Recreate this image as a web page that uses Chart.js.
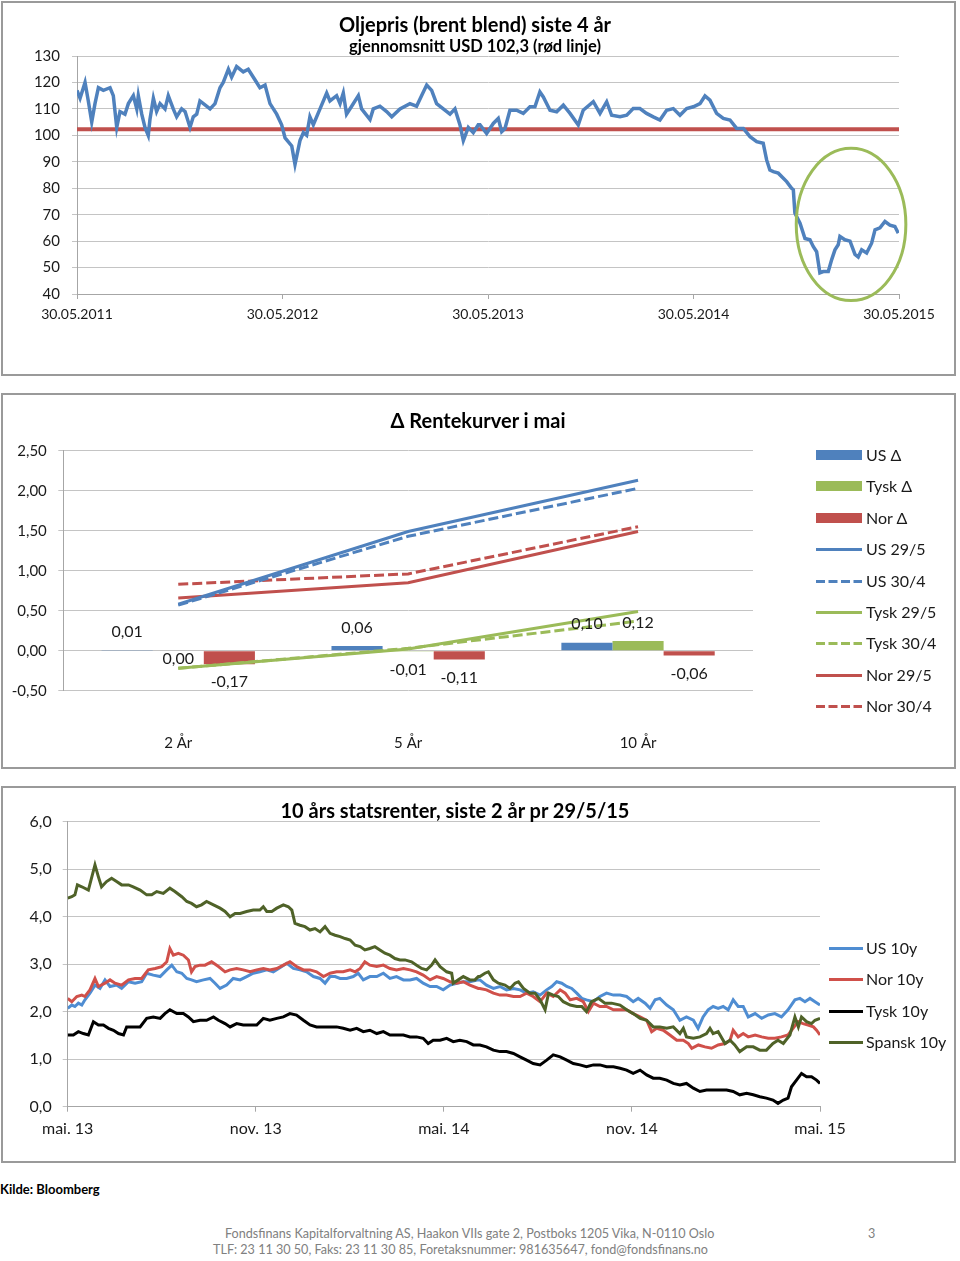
<!DOCTYPE html>
<html><head><meta charset="utf-8">
<script src="https://cdn.jsdelivr.net/npm/chart.js@4.4.0/dist/chart.umd.min.js"></script>
<style>
body{margin:0;background:#fff;font-family:Lato,"Open Sans",sans-serif;}
#page{position:relative;width:960px;height:1261px;overflow:hidden;background:#fff;}
.box{position:absolute;left:1px;width:951px;border:2px solid #9a9a9a;pointer-events:none;z-index:2;}
canvas{position:absolute;left:0;}
.t{position:absolute;white-space:nowrap;font-weight:bold;color:#000;transform:translate(-50%,-50%);line-height:1;}
.leg{position:absolute;white-space:nowrap;font-size:16px;color:#1a1a1a;line-height:20px;height:20px;z-index:3;}
.leg svg{position:absolute;left:0;top:0}
.foot{position:absolute;white-space:nowrap;font-size:12.6px;color:#808080;line-height:1;transform:translateY(-50%);}
</style></head>
<body><div id="page">
<canvas id="c1" width="960" height="380" style="top:0"></canvas>
<canvas id="c2" width="960" height="392" style="top:384px"></canvas>
<canvas id="c3" width="960" height="388" style="top:778px"></canvas>
<div class="box" style="top:1px;height:371px"></div>
<div class="box" style="top:393px;height:372px"></div>
<div class="box" style="top:786px;height:373px"></div>
<div class="t" style="left:475px;top:24px;font-size:20px">Oljepris (brent blend) siste 4 år</div>
<div class="t" style="left:475px;top:46px;font-size:16.5px">gjennomsnitt USD 102,3 (rød linje)</div>
<div class="t" style="left:478px;top:420px;font-size:20px">Δ Rentekurver i mai</div>
<div class="t" style="left:455px;top:810px;font-size:20px">10 års statsrenter, siste 2 år pr 29/5/15</div>
<div class="foot" style="left:0;top:1189px;font-weight:bold;color:#000;font-size:13px">Kilde: Bloomberg</div>
<div class="foot" style="left:225px;top:1234px">Fondsfinans Kapitalforvaltning AS, Haakon VIIs gate 2, Postboks 1205 Vika, N-0110 Oslo</div>
<div class="foot" style="left:213px;top:1250px">TLF: 23 11 30 50, Faks: 23 11 30 85, Foretaksnummer: 981635647, fond@fondsfinans.no</div>
<div class="foot" style="left:868px;top:1234px">3</div>
</div>
<script>
// ---------- Chart 1: oil price ----------
const oilTickLabels = ['30.05.2011','30.05.2012','30.05.2013','30.05.2014','30.05.2015'];
const oilTickMonths = [0,12,24,36,48];
const oilAverage = 102.3;
const oilMonths = [0,0.18,0.47,0.66,0.86,1.05,1.25,1.54,1.93,2.12,2.32,2.51,2.80,3.00,3.29,3.49,3.58,3.78,3.97,4.16,4.26,4.46,4.65,4.85,5.14,5.33,5.62,5.82,6.11,6.31,6.60,6.79,6.99,7.18,7.38,7.77,8.06,8.35,8.54,8.84,9.03,9.32,9.71,10.00,10.39,10.68,10.98,11.27,11.66,11.95,12.15,12.54,12.73,13.02,13.22,13.41,13.60,13.80,14.19,14.58,14.77,15.16,15.36,15.55,15.74,16.04,16.43,16.62,17.11,17.30,17.69,18.08,18.38,18.86,19.44,19.83,20.12,20.42,20.71,21.00,21.39,21.78,22.07,22.36,22.56,22.85,23.14,23.43,
23.53,23.92,24.31,24.60,24.80,24.99,25.28,25.67,26.06,26.45,26.74,27.03,27.23,27.62,28.01,28.40,28.79,29.27,29.56,30.15,30.54,30.93,31.22,31.71,32.10,32.48,32.87,33.26,33.65,34.04,34.43,34.82,35.21,35.60,35.99,36.38,36.67,36.96,37.35,37.74,38.13,38.52,38.91,39.30,39.69,40.07,40.27,40.46,40.66,40.95,41.44,41.73,
41.83,41.92,42.22,42.51,42.80,42.99,43.19,43.38,43.58,43.87,44.07,44.26,44.45,44.55,44.84,45.14,45.43,45.62,45.82,46.11,46.40,46.60,46.89,47.18,47.47,47.76,47.96];
const oilPrice = [117,114,120,113,105,112,118,117,118,115,103,109,108,112,115,110,115,108,103,100,106,114,109,112,110,115,110,107,110,109,103,107,108,113,112,110,112,118,120,125,122,126,124,125,121,118,119,112,108,104,99,96,89,98,101,100,107,104,110,116,113,115,112,116,108,111,115,110,106,110,111,109,107,110,112,111,115,119,117,112,110,108,110,104,98,103,101,104,
104,100.7,104.5,106.4,101.4,102.6,109.5,109.5,108.3,110.8,110.8,116.4,114.5,109.5,108.9,111.4,108.3,103.9,109.5,112.7,108.3,112.7,107.6,107,107.6,110.1,110.1,108.3,107,105.8,109.5,110.1,107.6,110.1,110.8,112,114.9,113.3,108.3,106.4,105.8,102.6,102.6,99.5,97.6,97,90.7,86.9,86.3,85.7,82.5,80,
79.4,70.6,66.8,61,60.5,58,56,48,48.5,48.5,53,56.7,58.6,61.8,60.5,60,55,54,56.7,55.5,59.2,64.3,65,67.4,66,65.5,63];
// highlight ellipse (in data units)
const ellipseCenter = {month:45.2, price:66.3};
const ellipseRadius = {months:3.2, price:28.8};

// ---------- Chart 2: yield curve changes ----------
const rkCategories = ['2 År','5 År','10 År'];
const usDelta   = [0.01, 0.06, 0.10];
const tyskDelta = [0.00,-0.01, 0.12];
const norDelta  = [-0.17,-0.11,-0.06];
const us295   = [0.58,1.49,2.13];
const us304   = [0.57,1.43,2.03];
const tysk295 = [-0.22,0.02,0.49];
const tysk304 = [-0.22,0.03,0.37];
const nor295  = [0.66,0.85,1.49];
const nor304  = [0.83,0.96,1.55];

// ---------- Chart 3: 10y government yields ----------
const yTickLabels = ['mai. 13','nov. 13','mai. 14','nov. 14','mai. 15'];
const yTickMonths = [0,6,12,18,24];
const usMonths = [0,0.13,0.23,0.34,0.45,0.55,0.71,0.87,1.03,1.19,1.35,1.56,1.72,1.94,2.15,2.36,2.52,2.73,2.95,3.16,3.32,3.48,3.64,3.80,3.95,4.11,4.33,4.54,4.70,4.86,5.07,5.28,5.50,5.71,5.92,6.13,6.35,6.56,6.83,6.99,7.20,7.41,7.62,7.84,8.05,8.21,8.37,8.53,8.69,8.90,9.11,9.27,9.43,9.64,9.86,10.07,10.28,10.49,10.71,10.92,11.13,11.34,11.56,11.77,11.98,12.20,12.41,12.62,12.83,13.10,
13.15,13.36,13.58,13.79,14.00,14.22,14.43,14.64,14.85,15.07,15.28,15.44,15.60,15.76,15.92,16.08,16.24,16.40,16.55,16.77,16.98,17.19,17.41,17.62,17.83,18.04,18.20,18.42,18.58,18.74,18.89,19.11,19.32,19.53,19.74,19.96,20.11,20.27,20.43,20.59,20.75,20.91,21.07,21.23,21.39,21.55,21.71,21.93,22.14,22.35,22.56,22.77,22.98,23.20,23.36,23.52,23.68,23.84,24.0];
const usYield = [2.07,2.14,2.11,2.18,2.14,2.25,2.39,2.56,2.49,2.67,2.53,2.56,2.49,2.63,2.60,2.63,2.81,2.77,2.74,2.88,2.98,2.84,2.81,2.70,2.67,2.63,2.67,2.70,2.60,2.49,2.56,2.70,2.67,2.74,2.81,2.84,2.88,2.84,2.95,3.02,2.91,2.88,2.84,2.74,2.70,2.60,2.74,2.74,2.70,2.70,2.74,2.81,2.67,2.74,2.74,2.81,2.70,2.74,2.67,2.67,2.70,2.60,2.53,2.53,2.46,2.56,2.60,2.63,2.63,2.67,
2.67,2.56,2.49,2.53,2.46,2.49,2.46,2.39,2.42,2.35,2.46,2.53,2.63,2.60,2.53,2.49,2.39,2.28,2.25,2.21,2.32,2.39,2.35,2.35,2.32,2.21,2.28,2.18,2.07,2.25,2.28,2.14,2.04,1.82,1.89,1.82,1.65,1.89,2.04,2.11,2.07,2.11,2.04,2.25,2.11,2.11,1.89,1.96,1.86,1.93,1.96,1.89,2.04,2.25,2.28,2.21,2.28,2.21,2.14];
const norMonths = [0,0.13,0.29,0.45,0.55,0.71,0.87,0.98,1.19,1.35,1.51,1.72,1.94,2.15,2.36,2.57,2.79,3.00,3.16,3.26,3.37,3.53,3.69,3.85,3.95,4.06,4.22,4.38,4.59,4.81,5.02,5.18,5.39,5.60,5.82,6.03,6.24,6.45,6.67,6.88,7.09,7.30,7.52,7.73,7.94,8.16,8.37,8.58,8.79,9.01,9.17,9.33,9.48,9.64,9.86,10.07,10.28,10.49,10.71,10.92,11.13,11.34,11.56,11.77,11.98,12.20,12.41,12.62,12.83,13.10,
13.15,13.36,13.58,13.79,14.00,14.22,14.43,14.64,14.85,15.07,15.28,15.49,15.71,15.87,16.03,16.24,16.45,16.61,16.77,16.98,17.19,17.41,17.62,17.83,18.04,18.26,18.47,18.63,18.79,19.00,19.21,19.43,19.64,19.80,19.91,20.12,20.33,20.54,20.75,20.97,21.13,21.23,21.39,21.55,21.71,21.93,22.14,22.35,22.56,22.77,22.98,23.14,23.30,23.46,23.62,23.79,23.89,24.0];
const norYield = [2.28,2.21,2.32,2.35,2.32,2.46,2.70,2.53,2.60,2.67,2.60,2.56,2.67,2.70,2.70,2.88,2.91,2.95,3.05,3.33,3.19,3.23,3.19,3.09,2.84,2.95,2.98,2.98,3.05,2.95,2.84,2.88,2.91,2.88,2.84,2.88,2.91,2.88,2.91,2.98,3.05,2.95,2.88,2.88,2.84,2.74,2.81,2.84,2.84,2.88,2.84,2.91,3.05,2.98,2.95,2.98,2.91,2.88,2.91,2.88,2.84,2.77,2.67,2.74,2.70,2.63,2.60,2.63,2.56,2.49,
2.49,2.46,2.39,2.35,2.35,2.32,2.32,2.39,2.32,2.21,2.39,2.32,2.46,2.39,2.25,2.28,2.21,2.00,2.18,2.11,2.11,2.04,2.04,2.04,1.96,1.89,1.82,1.58,1.65,1.61,1.51,1.40,1.40,1.33,1.23,1.30,1.26,1.23,1.30,1.33,1.40,1.61,1.47,1.54,1.47,1.51,1.47,1.44,1.44,1.47,1.51,1.65,1.79,1.75,1.72,1.68,1.61,1.51];
const tyskMonths = [0,0.18,0.34,0.50,0.66,0.82,0.98,1.14,1.30,1.46,1.62,1.78,1.88,2.09,2.31,2.52,2.73,2.95,3.10,3.26,3.48,3.69,3.85,4.01,4.22,4.43,4.65,4.81,5.02,5.18,5.39,5.60,5.82,6.03,6.24,6.45,6.67,6.88,7.09,7.30,7.52,7.73,7.94,8.16,8.37,8.58,8.79,9.01,9.22,9.43,9.64,9.86,10.07,10.28,10.49,10.71,10.92,11.13,11.34,11.50,11.66,11.88,12.09,12.30,12.51,12.73,12.94,13.10,
13.15,13.36,13.58,13.79,14.00,14.22,14.43,14.64,14.85,15.07,15.28,15.49,15.71,15.92,16.13,16.34,16.55,16.77,16.98,17.19,17.41,17.62,17.83,18.04,18.26,18.47,18.68,18.89,19.11,19.32,19.53,19.74,19.96,20.17,20.38,20.59,20.80,21.02,21.23,21.44,21.66,21.87,22.08,22.29,22.50,22.66,22.83,22.98,23.09,23.25,23.41,23.57,23.73,23.89,24.0];
const tyskYield = [1.51,1.51,1.58,1.54,1.51,1.79,1.72,1.72,1.65,1.61,1.54,1.51,1.68,1.68,1.68,1.86,1.89,1.86,1.96,2.04,1.96,1.96,1.89,1.79,1.82,1.82,1.89,1.82,1.75,1.68,1.75,1.72,1.72,1.72,1.86,1.82,1.86,1.89,1.96,1.93,1.82,1.72,1.68,1.68,1.68,1.68,1.65,1.61,1.65,1.58,1.61,1.54,1.58,1.51,1.51,1.51,1.47,1.47,1.44,1.33,1.40,1.40,1.44,1.37,1.40,1.37,1.30,1.30,
1.30,1.26,1.19,1.16,1.16,1.12,1.05,0.98,0.91,0.88,0.98,1.09,1.05,0.98,0.91,0.88,0.84,0.88,0.88,0.84,0.84,0.81,0.77,0.70,0.77,0.67,0.60,0.60,0.56,0.49,0.46,0.49,0.39,0.32,0.35,0.35,0.35,0.35,0.32,0.25,0.28,0.25,0.21,0.18,0.14,0.07,0.14,0.18,0.42,0.56,0.70,0.63,0.63,0.56,0.49];
const spanskMonths = [0,0.13,0.23,0.31,0.45,0.66,0.77,0.87,0.98,1.08,1.24,1.40,1.56,1.72,1.94,2.09,2.31,2.52,2.68,2.84,3.05,3.26,3.42,3.64,3.80,3.95,4.11,4.27,4.43,4.65,4.86,5.02,5.18,5.34,5.50,5.71,5.92,6.13,6.24,6.35,6.51,6.67,6.88,7.04,7.15,7.20,7.25,7.41,7.57,7.73,7.89,8.05,8.21,8.37,8.53,8.69,8.85,9.01,9.17,9.33,9.48,9.64,9.80,9.96,10.12,10.28,10.44,10.60,10.76,10.97,11.13,11.29,11.45,11.61,11.72,11.88,12.09,12.25,12.30,12.46,12.62,12.83,12.99,13.10,
13.15,13.31,13.42,13.58,13.74,13.95,14.11,14.27,14.38,14.54,14.75,14.91,15.07,15.23,15.34,15.49,15.65,15.81,16.03,16.24,16.40,16.55,16.71,16.93,17.14,17.35,17.62,17.83,18.04,18.26,18.47,18.68,18.89,19.11,19.32,19.53,19.64,19.74,19.96,20.17,20.38,20.49,20.59,20.75,20.97,21.13,21.28,21.44,21.66,21.87,22.08,22.29,22.50,22.66,22.83,23.04,23.20,23.31,23.41,23.57,23.73,23.84,24.0];
const spanskYield = [4.39,4.42,4.46,4.67,4.63,4.56,4.84,5.09,4.84,4.63,4.74,4.81,4.74,4.67,4.67,4.63,4.56,4.46,4.46,4.53,4.49,4.60,4.53,4.42,4.32,4.28,4.21,4.25,4.32,4.25,4.18,4.11,4.00,4.07,4.07,4.11,4.14,4.14,4.21,4.11,4.11,4.18,4.25,4.21,4.14,4.00,3.86,3.82,3.79,3.72,3.75,3.68,3.79,3.65,3.61,3.58,3.54,3.51,3.40,3.37,3.30,3.33,3.37,3.30,3.23,3.19,3.12,3.09,3.09,3.05,2.98,2.91,2.88,2.98,3.09,2.95,2.84,2.81,2.60,2.67,2.74,2.67,2.67,2.74,
2.74,2.81,2.84,2.67,2.60,2.56,2.49,2.60,2.63,2.49,2.39,2.39,2.25,2.04,2.39,2.35,2.32,2.21,2.14,2.11,2.11,2.00,2.21,2.28,2.18,2.18,2.14,2.04,1.96,1.86,1.82,1.68,1.68,1.65,1.68,1.54,1.65,1.47,1.44,1.47,1.54,1.65,1.54,1.58,1.33,1.40,1.30,1.16,1.26,1.26,1.19,1.19,1.33,1.40,1.33,1.51,1.89,1.68,1.89,1.79,1.75,1.82,1.86];

// ---------- shared styles ----------
const FONT = 'Lato';
const TXT = '#1a1a1a';
const GRID = '#c4c4c4';
const AXIS = '#a6a6a6';
const C = {blue:'#4F81BD', red:'#C0504D', green:'#9BBB59', usBlue:'#4F8DD2', norRed:'#D0504A', black:'#000000', olive:'#4F6228'};
const pts = (xs, ys) => xs.map((x,i)=>({x, y:ys[i]}));
const comma = (v,d) => v.toFixed(d).replace('.',',');

// ---------- Chart 1 ----------
const ellipsePlugin = {
  id:'ellipse',
  afterDatasetsDraw(chart){
    const x=chart.scales.x, y=chart.scales.y, ctx=chart.ctx;
    const cx=x.getPixelForValue(ellipseCenter.month), cy=y.getPixelForValue(ellipseCenter.price);
    const rx=Math.abs(x.getPixelForValue(ellipseCenter.month+ellipseRadius.months)-cx);
    const ry=Math.abs(y.getPixelForValue(ellipseCenter.price+ellipseRadius.price)-cy);
    ctx.save(); ctx.strokeStyle=C.green; ctx.lineWidth=3;
    ctx.beginPath(); ctx.ellipse(cx,cy,rx,ry,0,0,Math.PI*2); ctx.stroke(); ctx.restore();
  }
};
new Chart(document.getElementById('c1'), {
  type:'line',
  data:{datasets:[
    {label:'Brent', data:pts(oilMonths,oilPrice), borderColor:C.blue, borderWidth:3.5, pointRadius:0, tension:0, order:0},
    {label:'Gjennomsnitt', data:pts([oilTickMonths[0],oilTickMonths[4]],[oilAverage,oilAverage]), borderColor:C.red, borderWidth:4, pointRadius:0, order:1}
  ]},
  options:{
    responsive:false, animation:false, devicePixelRatio:1,
    layout:{padding:{left:0,top:56,right:61,bottom:0}},
    plugins:{legend:{display:false}, tooltip:{enabled:false}},
    scales:{
      x:{type:'linear', min:0, max:48,
        afterBuildTicks:s=>{s.ticks=oilTickMonths.map(v=>({value:v}));},
        ticks:{callback:(v)=>oilTickLabels[oilTickMonths.indexOf(v)], font:{family:FONT,size:14}, color:TXT, padding:7, maxRotation:0, autoSkip:false},
        grid:{drawOnChartArea:false, tickLength:5, color:AXIS},
        border:{color:AXIS},
        afterFit:s=>{s.height=380-294;}},
      y:{min:40, max:130,
        ticks:{stepSize:10, font:{family:FONT,size:15}, color:TXT, padding:12},
        grid:{color:GRID, tickLength:5},
        border:{color:AXIS},
        afterFit:s=>{s.width=77;}}
    }
  },
  plugins:[ellipsePlugin]
});

// ---------- Chart 2 ----------
const barLabelPlugin = {
  id:'barLabels',
  afterDatasetsDraw(chart){
    const ctx=chart.ctx; ctx.save();
    ctx.font='16px '+FONT; ctx.fillStyle=TXT; ctx.textAlign='center'; ctx.textBaseline='middle';
    chart.data.datasets.forEach((ds,i)=>{
      if(ds.type!=='bar') return;
      chart.getDatasetMeta(i).data.forEach((el,j)=>{
        const v=ds.data[j];
        const off = v>0 ? -18.5 : (v<0 ? 18 : 8.5);
        ctx.fillText(comma(v,2), el.x, el.y+off);
      });
    });
    ctx.restore();
  }
};
const rkSeries = [
  {label:'US Δ', data:usDelta, color:C.blue, kind:'bar'},
  {label:'Tysk Δ', data:tyskDelta, color:C.green, kind:'bar'},
  {label:'Nor Δ', data:norDelta, color:C.red, kind:'bar'},
  {label:'US 29/5', data:us295, color:C.blue, kind:'line'},
  {label:'US 30/4', data:us304, color:C.blue, kind:'line', dash:true},
  {label:'Tysk 29/5', data:tysk295, color:C.green, kind:'line'},
  {label:'Tysk 30/4', data:tysk304, color:C.green, kind:'line', dash:true},
  {label:'Nor 29/5', data:nor295, color:C.red, kind:'line'},
  {label:'Nor 30/4', data:nor304, color:C.red, kind:'line', dash:true}
];
new Chart(document.getElementById('c2'), {
  data:{labels:rkCategories, datasets:rkSeries.map(s=> s.kind==='bar'
    ? {type:'bar', label:s.label, data:s.data, backgroundColor:s.color, categoryPercentage:0.667, barPercentage:1, order:10}
    : {type:'line', label:s.label, data:s.data, borderColor:s.color, borderWidth:3, borderDash:s.dash?[10,4]:[], pointRadius:0, tension:0, order:1})},
  options:{
    responsive:false, animation:false, devicePixelRatio:1,
    layout:{padding:{left:0,top:66.7,right:207,bottom:0}},
    plugins:{legend:{display:false}, tooltip:{enabled:false}},
    scales:{
      x:{ticks:{font:{family:FONT,size:15}, color:TXT, padding:35}, grid:{display:false}, border:{display:false},
        afterFit:s=>{s.height=392-306.7;}},
      y:{min:-0.5, max:2.5,
        ticks:{stepSize:0.5, callback:v=>comma(v,2), font:{family:FONT,size:15}, color:TXT, padding:11.5},
        grid:{color:GRID, tickLength:5},
        border:{color:AXIS},
        afterFit:s=>{s.width=63.3;}}
    }
  },
  plugins:[barLabelPlugin]
});

// ---------- Chart 3 ----------
const ySeries = [
  {label:'US 10y', xs:usMonths, ys:usYield, color:C.usBlue},
  {label:'Nor 10y', xs:norMonths, ys:norYield, color:C.norRed},
  {label:'Tysk 10y', xs:tyskMonths, ys:tyskYield, color:C.black},
  {label:'Spansk 10y', xs:spanskMonths, ys:spanskYield, color:C.olive}
];
new Chart(document.getElementById('c3'), {
  type:'line',
  data:{datasets:ySeries.map((s,i)=>({label:s.label, data:pts(s.xs,s.ys), borderColor:s.color, borderWidth:3, pointRadius:0, tension:0, order:ySeries.length-i}))},
  options:{
    responsive:false, animation:false, devicePixelRatio:1,
    layout:{padding:{left:0,top:43.7,right:140,bottom:0}},
    plugins:{legend:{display:false}, tooltip:{enabled:false}},
    scales:{
      x:{type:'linear', min:0, max:24,
        afterBuildTicks:s=>{s.ticks=yTickMonths.map(v=>({value:v}));},
        ticks:{callback:(v)=>yTickLabels[yTickMonths.indexOf(v)], font:{family:FONT,size:16}, color:TXT, padding:8, maxRotation:0, autoSkip:false},
        grid:{drawOnChartArea:false, tickLength:5, color:AXIS},
        border:{color:AXIS},
        afterFit:s=>{s.height=388-328.7;}},
      y:{min:0, max:6,
        ticks:{stepSize:1, callback:v=>comma(v,1), font:{family:FONT,size:16}, color:TXT, padding:11},
        grid:{color:GRID, tickLength:5},
        border:{color:AXIS},
        afterFit:s=>{s.width=67.7;}}
    }
  }
});

// ---------- HTML legends ----------
const page=document.getElementById('page');
const svgNS='http://www.w3.org/2000/svg';
function legendItem(left, yc, swW, textLeft, label, color, kind, dash){
  const d=document.createElement('div'); d.className='leg';
  d.style.left=left+'px'; d.style.top=(yc-10)+'px'; d.style.paddingLeft=(textLeft-left)+'px';
  const svg=document.createElementNS(svgNS,'svg'); svg.setAttribute('width',swW); svg.setAttribute('height',20);
  let el;
  if(kind==='bar'){ el=document.createElementNS(svgNS,'rect'); el.setAttribute('x',0); el.setAttribute('y',5); el.setAttribute('width',swW); el.setAttribute('height',10); el.setAttribute('fill',color); }
  else { el=document.createElementNS(svgNS,'line'); el.setAttribute('x1',0); el.setAttribute('x2',swW); el.setAttribute('y1',10.5); el.setAttribute('y2',10.5); el.setAttribute('stroke',color); el.setAttribute('stroke-width',3); if(dash) el.setAttribute('stroke-dasharray','9 3.5'); }
  svg.appendChild(el); d.appendChild(svg); d.appendChild(document.createTextNode(label));
  page.appendChild(d);
}
rkSeries.forEach((s,i)=>legendItem(816, 455+i*31.4, 46, 866, s.label, s.color, s.kind, s.dash));
ySeries.forEach((s,i)=>legendItem(829, 948+i*31.3, 34, 866, s.label, s.color, 'line', false));
</script>
</body></html>
